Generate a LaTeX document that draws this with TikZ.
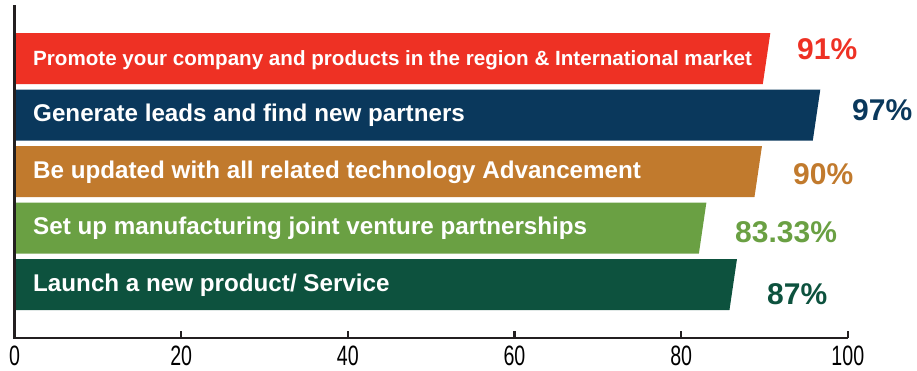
\documentclass[tikz,border=0pt]{standalone}
\usepackage{fontspec}
\setmainfont{Liberation Sans}
\newfontfamily\axisfont[FakeStretch=0.7]{Liberation Sans}

\definecolor{barred}{RGB}{238,49,36}
\definecolor{barnavy}{RGB}{10,56,92}
\definecolor{barorange}{RGB}{193,122,45}
\definecolor{bargreen}{RGB}{106,160,67}
\definecolor{bardark}{RGB}{13,82,62}
\definecolor{axisgray}{RGB}{35,31,32}

\tikzset{
    bar label/.style={anchor=base west, inner sep=0pt, text=white,
        font=\fontsize{#1}{#1}\selectfont\bfseries},
    pct label/.style={anchor=base west, inner sep=0pt,
        font=\fontsize{30}{34}\selectfont\bfseries},
    tick label/.style={anchor=base, inner sep=0pt,
        font=\axisfont\fontsize{28}{30}\selectfont},
    axis line/.style={draw=axisgray, line width=2.2pt},
}

\begin{document}
\begin{tikzpicture}[x=1pt, y=-1pt]
    \useasboundingbox (0,0) rectangle (917,370);

    % bars: value / top / colour / label x / label baseline / text size / text
    \foreach \v/\ytop/\col/\px/\py/\fs/\txt [count=\i] in {
        91/33/barred/797/59/20.6/{Promote your company and products in the region \& International market},
        97/89.5/barnavy/852/120/24.2/{Generate leads and find new partners},
        90/146/barorange/793/184/24.2/{Be updated with all related technology Advancement},
        83.33/202.5/bargreen/735/242/24.2/{Set up manufacturing joint venture partnerships},
        87/259/bardark/767/304/24.2/{Launch a new product/ Service}} {
        \fill[\col] (16,\ytop) -- ({12+\v*8.333},\ytop)
            -- ({4.5+\v*8.333},\ytop+51) -- (16,\ytop+51) -- cycle;
        \node[bar label=\fs] (bar\i) at (33,\ytop+32) {\txt};
        \node[pct label, text=\col] (pct\i) at (\px,\py) {\v\%};
    }

    % axes
    \draw[axis line] (14.5,5) -- (14.5,338) -- (848,338);
    \foreach \t in {20,40,...,100}
        \draw[axis line] ({14.5+\t*8.333},338) -- ++(0,-7);
    \foreach \t in {0,20,...,100}
        \node[tick label] (tick\t) at ({14.5+\t*8.333},365) {\t};
\end{tikzpicture}
\end{document}
